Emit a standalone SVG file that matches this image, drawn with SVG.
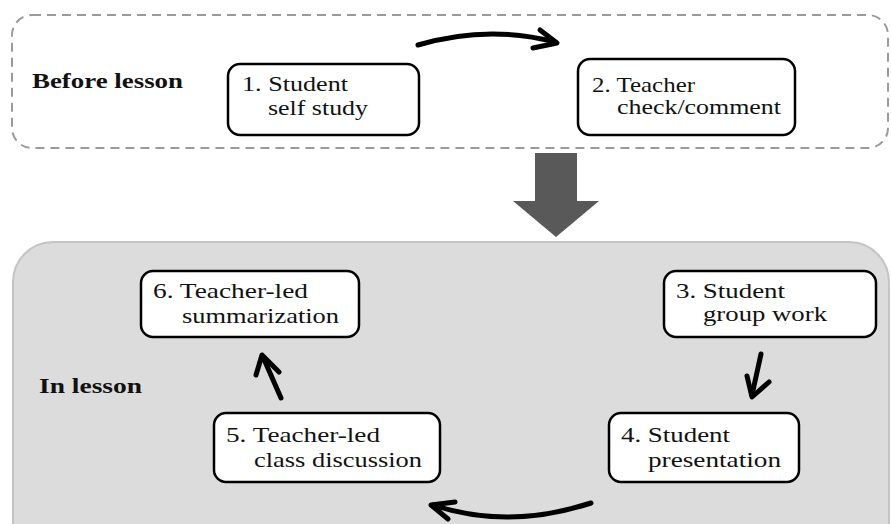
<svg xmlns="http://www.w3.org/2000/svg" width="891" height="524" viewBox="0 0 891 524">
<defs>
<style>
.node rect{fill:#fff;stroke:#000;stroke-width:2.5}
.t{font-family:"Liberation Serif","Times New Roman",serif;font-size:22px;fill:#111}
.b{font-family:"Liberation Serif","Times New Roman",serif;font-size:21px;font-weight:bold;fill:#111}
.conn path,.conn polyline{fill:none;stroke:#000;stroke-width:5;stroke-linecap:round;stroke-linejoin:round}
</style>
</defs>
<rect width="891" height="524" fill="#fff"/>
<g id="before-lesson">
<rect x="12" y="15" width="876" height="133" rx="20" fill="none" stroke="#9a9a9a" stroke-width="2" stroke-dasharray="9 6"/>
<text class="b" x="32" y="88" textLength="151" lengthAdjust="spacingAndGlyphs">Before lesson</text>
</g>
<g id="in-lesson">
<rect x="13" y="242" width="876" height="320" rx="40" fill="#dcdcdc" stroke="#c4c4c4" stroke-width="2"/>
<text class="b" x="39" y="393" textLength="103" lengthAdjust="spacingAndGlyphs">In lesson</text>
</g>
<g id="transition">
<polygon points="535,153 577,153 577,201 599,201 556,237 513,201 535,201" fill="#595959"/>
</g>
<g id="n1" class="node">
<rect x="228" y="64" width="191" height="71" rx="12"/>
<text class="t" x="242" y="91" textLength="106" lengthAdjust="spacingAndGlyphs">1. Student</text>
<text class="t" x="268" y="115" textLength="100" lengthAdjust="spacingAndGlyphs">self study</text>
</g>
<g id="n2" class="node">
<rect x="578" y="59" width="217" height="76" rx="12"/>
<text class="t" x="592" y="92" textLength="103" lengthAdjust="spacingAndGlyphs">2. Teacher</text>
<text class="t" x="617" y="114" textLength="164" lengthAdjust="spacingAndGlyphs">check/comment</text>
</g>
<g id="n3" class="node">
<rect x="664" y="271" width="212" height="66" rx="12"/>
<text class="t" x="676" y="298" textLength="109" lengthAdjust="spacingAndGlyphs">3. Student</text>
<text class="t" x="703" y="321" textLength="124" lengthAdjust="spacingAndGlyphs">group work</text>
</g>
<g id="n4" class="node">
<rect x="609" y="413" width="190" height="69" rx="12"/>
<text class="t" x="621" y="442" textLength="109" lengthAdjust="spacingAndGlyphs">4. Student</text>
<text class="t" x="648" y="467" textLength="133" lengthAdjust="spacingAndGlyphs">presentation</text>
</g>
<g id="n5" class="node">
<rect x="214" y="413" width="226" height="69" rx="12"/>
<text class="t" x="226" y="442" textLength="154" lengthAdjust="spacingAndGlyphs">5. Teacher-led</text>
<text class="t" x="254" y="467" textLength="168" lengthAdjust="spacingAndGlyphs">class discussion</text>
</g>
<g id="n6" class="node">
<rect x="141" y="271" width="218" height="66" rx="12"/>
<text class="t" x="153" y="298" textLength="155" lengthAdjust="spacingAndGlyphs">6. Teacher-led</text>
<text class="t" x="182" y="323" textLength="157" lengthAdjust="spacingAndGlyphs">summarization</text>
</g>
<g id="connectors" class="conn">
<path d="M418,45 Q487.5,24.5 555,42"/>
<polyline points="540,30 557,43 533,48"/>
<path d="M761,354 L752,395"/>
<polyline points="747,376 752,397 769,382"/>
<path d="M591,503 Q508.5,530 433,505"/>
<polyline points="455,502 431,505 448,519"/>
<path d="M281,398 L263,357"/>
<polyline points="256,375 262,355 279,372"/>
</g>
</svg>
